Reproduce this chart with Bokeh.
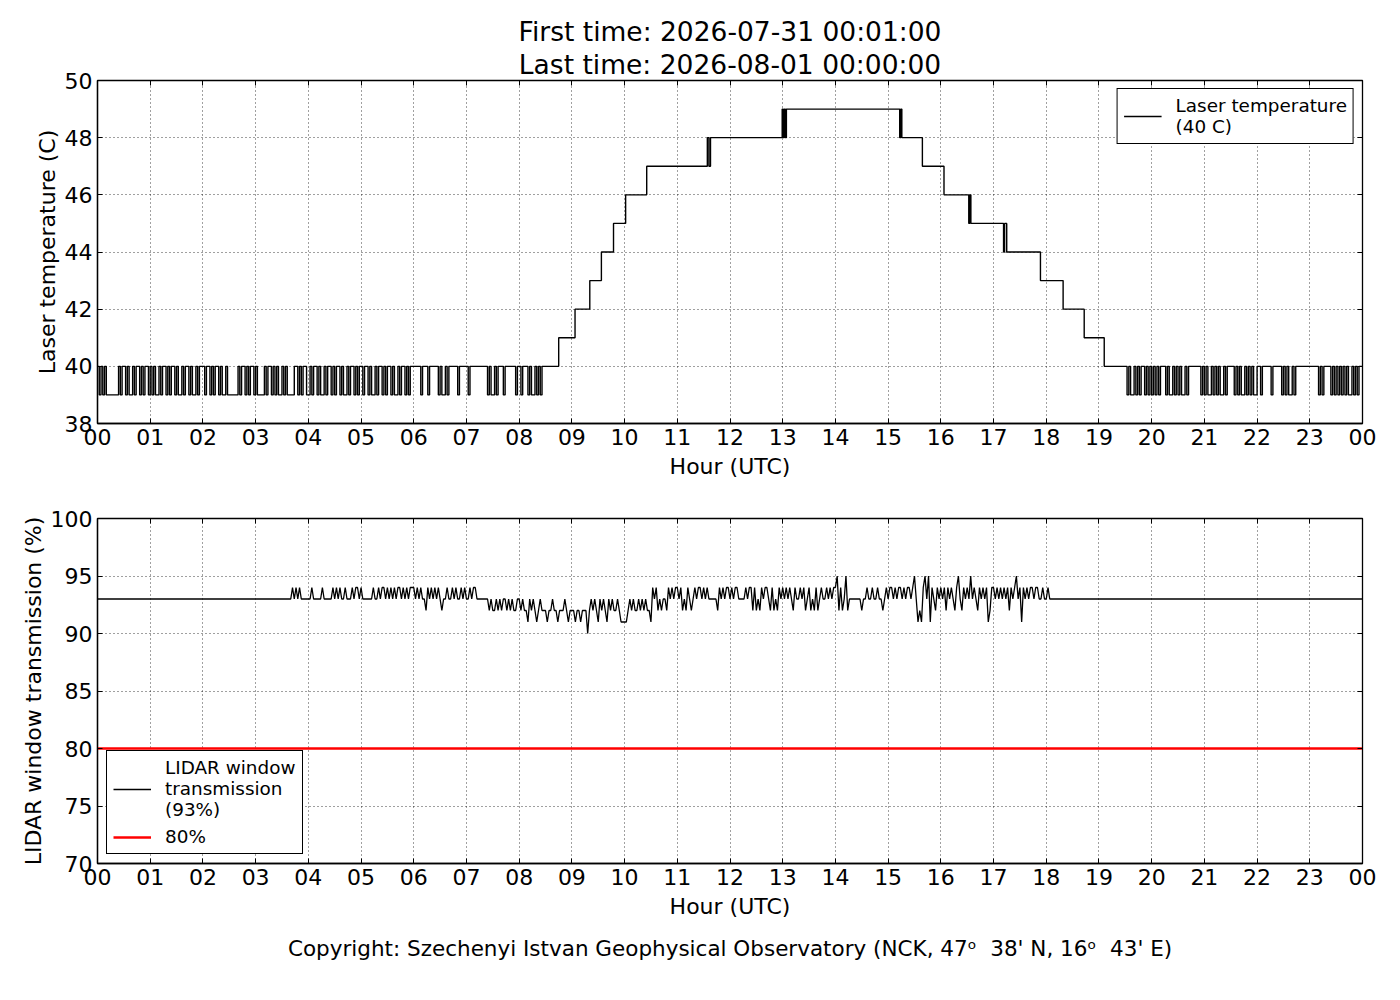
from bokeh.plotting import figure
from bokeh.models import (Range1d, FixedTicker, LinearAxis, Legend, LegendItem, Title)
from bokeh.layouts import column
from bokeh.embed import file_html
from bokeh.resources import INLINE

FONT = "DejaVu Sans"

# ---------------- data ----------------
hour_ticks = list(range(25))
hour_labels = ["%02d" % (h % 24) for h in hour_ticks]

title_first = "First time: 2026-07-31 00:01:00"
title_last = "Last time: 2026-08-01 00:00:00"
copyright_text = "Copyright: Szechenyi Istvan Geophysical Observatory (NCK, 47\u1d52\u00a0\u00a038' N, 16\u1d52\u00a0\u00a043' E)"

# Laser temperature, noisy part 00-08.45 h: one string per hour, one char per 2 min ('1'=40 C, '0'=39 C)
temp_morning_noise = [
    "101010000000101101001011010110",
    "101001011010110100101101001011",
    "101101011010010000001011010110",
    "100001011010100101000011010110",
    "010110100101101011010010110101",
    "101101001011010110100101101011",
    "111101110111110100101111101111",
    "101111111111010010111011111101",
    "10111010010101",
]
# Laser temperature, stepped part (hour, value)
temp_step_hours = [8.45, 8.75, 9.06, 9.34, 9.56, 9.79, 10.02, 10.42,
                   11.57, 11.60, 11.63, 12.99, 13.01, 13.03, 13.05, 13.07,
                   15.22, 15.24, 15.26, 15.65, 16.06, 16.53, 16.55, 16.57,
                   17.19, 17.21, 17.25, 17.89, 18.32, 18.72, 19.10]
temp_step_values = [40, 41, 42, 43, 44, 45, 46, 47,
                    48, 47, 48, 49, 48, 49, 48, 49,
                    48, 49, 48, 47, 46, 45, 46, 45,
                    44, 45, 44, 43, 42, 41, 40]
# Laser temperature, noisy part 19.5-24 h
temp_evening_starts = [19.5, 20, 21, 22, 23]
temp_evening_noise = [
    "101001010110101",
    "010101110100101010010111111101",
    "010010101001011110101001010100",
    "110111110111110101001011111111",
    "111110101111010101010100101011",
]
temp_end = 40

# LIDAR window transmission: flat 93 % outside 03-18 h; one string per hour from 03 h,
# one char per 2 min, value = 90 + digit
trans_flat = 93
trans_noise_start = 3
trans_noise = [
    "333333333333333333333434343333",
    "334333334333334343433433343443",
    "433333343343443434343443434344",
    "434343324343434323343343433434",
    "334344333333323223232332323223",
    "323221323212322212232212223212",
    "221221222023232132321323223211",
    "112323223232322143423233243434",
    "434232432343443434333332434344",
    "343443333434424232434432423243",
    "434343243343423423242343343434",
    "452423523333333233433433433234",
    "344343443434434531214535143243",
    "434243432453243435343243434124",
    "434343434243453414343443443343",
    "343",
]
threshold = 80

# ---------------- build series ----------------
tx, ty = [], []
for h, s in enumerate(temp_morning_noise):
    for i, c in enumerate(s):
        tx.append(h + i / 30.0)
        ty.append(39 + int(c))
tx += temp_step_hours
ty += temp_step_values
for st, s in zip(temp_evening_starts, temp_evening_noise):
    for i, c in enumerate(s):
        tx.append(st + i / 30.0)
        ty.append(39 + int(c))
tx.append(24.0)
ty.append(temp_end)

wx, wy = [0.0], [trans_flat]
for k, s in enumerate(trans_noise):
    for i, c in enumerate(s):
        wx.append(trans_noise_start + k + i / 30.0)
        wy.append(90 + int(c))
wx.append(24.0)
wy.append(trans_flat)

W = 1392


def style(p, yticks, ylabel):
    p.x_range = Range1d(0, 24)
    p.outline_line_color = "black"
    p.outline_line_width = 1.3
    p.outline_line_alpha = 1
    p.background_fill_color = "white"
    p.border_fill_color = "white"
    xt = FixedTicker(ticks=hour_ticks)
    yt = FixedTicker(ticks=yticks)
    for ax in p.xaxis:
        ax.ticker = xt
        ax.major_label_overrides = {t: l for t, l in zip(hour_ticks, hour_labels)}
        ax.axis_label = "Hour (UTC)"
        ax.axis_label_standoff = 6
    for ax in p.yaxis:
        ax.ticker = yt
        ax.axis_label = ylabel
        ax.axis_label_standoff = 2
    for ax in list(p.xaxis) + list(p.yaxis):
        ax.major_tick_in = 5
        ax.major_tick_out = 0
        ax.minor_tick_line_color = None
        ax.axis_line_color = "black"
        ax.axis_line_width = 1.3
        ax.major_tick_line_width = 1
        ax.major_label_text_font = FONT
        ax.major_label_text_font_size = "22px"
        ax.major_label_text_color = "black"
        ax.axis_label_text_font = FONT
        ax.axis_label_text_font_size = "22px"
        ax.axis_label_text_font_style = "normal"
        ax.axis_label_text_color = "black"
        ax.major_label_standoff = 5
    # ticks on top / right, no labels
    top = LinearAxis(ticker=xt, major_label_text_font_size="0px", major_label_text_color=None,
                     major_tick_in=5, major_tick_out=0, minor_tick_line_color=None,
                     axis_line_color="black", major_label_standoff=0)
    right = LinearAxis(ticker=yt, major_label_text_font_size="0px", major_label_text_color=None,
                       major_tick_in=5, major_tick_out=0, minor_tick_line_color=None,
                       axis_line_color="black", major_label_standoff=0)
    p.add_layout(top, "above")
    p.add_layout(right, "right")
    p.xgrid.ticker = xt
    p.ygrid.ticker = yt
    for g in (p.xgrid, p.ygrid):
        g.grid_line_color = "black"
        g.grid_line_alpha = 0.75
        g.grid_line_width = 1
        g.grid_line_dash = "1 3"


def style_legend(lg):
    lg.label_text_font = FONT
    lg.label_text_font_size = "18.4px"
    lg.label_text_color = "black"
    lg.border_line_color = "black"
    lg.border_line_width = 1.3
    lg.border_line_alpha = 1
    lg.background_fill_alpha = 1
    lg.glyph_width = 38
    lg.label_standoff = 14
    lg.padding = 6
    lg.spacing = 6


# ---------------- top figure ----------------
H1 = 488
p1 = figure(width=W, height=H1, output_backend="svg", toolbar_location=None,
            min_border_left=97, min_border_right=30, min_border_top=80, min_border_bottom=65,
            y_range=Range1d(38, 50))
style(p1, list(range(38, 51, 2)), "Laser temperature (C)")
r1 = p1.step(tx, ty, mode="after", line_color="black", line_width=1.4)
leg1 = Legend(items=[LegendItem(label="Laser temperature\n(40 C)", renderers=[r1])],
              location="top_right")
style_legend(leg1)
leg1.margin = 8
p1.add_layout(leg1)
p1.add_layout(Title(text=title_last, align="center", text_font=FONT, text_font_size="26.5px",
                    text_font_style="normal", text_color="black", standoff=1), "above")
p1.add_layout(Title(text=title_first, align="center", text_font=FONT, text_font_size="26.5px",
                    text_font_style="normal", text_color="black", standoff=0), "above")

# ---------------- bottom figure ----------------
H2 = 504
p2 = figure(width=W, height=H2, output_backend="svg", toolbar_location=None,
            min_border_left=97, min_border_right=30, min_border_top=30, min_border_bottom=129,
            y_range=Range1d(70, 100))
style(p2, list(range(70, 101, 5)), "LIDAR window transmission (%)")
r2 = p2.line(wx, wy, line_color="black", line_width=1.3)
r3 = p2.line([0, 24], [threshold, threshold], line_color="#ff0000", line_width=2.6)
leg2 = Legend(items=[LegendItem(label="LIDAR window\ntransmission\n(93%)", renderers=[r2]),
                     LegendItem(label="%d%%" % threshold, renderers=[r3])],
              location="bottom_left")
style_legend(leg2)
leg2.margin = 9
p2.add_layout(leg2)
p2.add_layout(Title(text=copyright_text, align="center", text_font=FONT, text_font_size="21.5px",
                    text_font_style="normal", text_color="black", standoff=24), "below")

layout = column(p1, p2, spacing=0)
open("out.html", "w").write(file_html(layout, INLINE))
